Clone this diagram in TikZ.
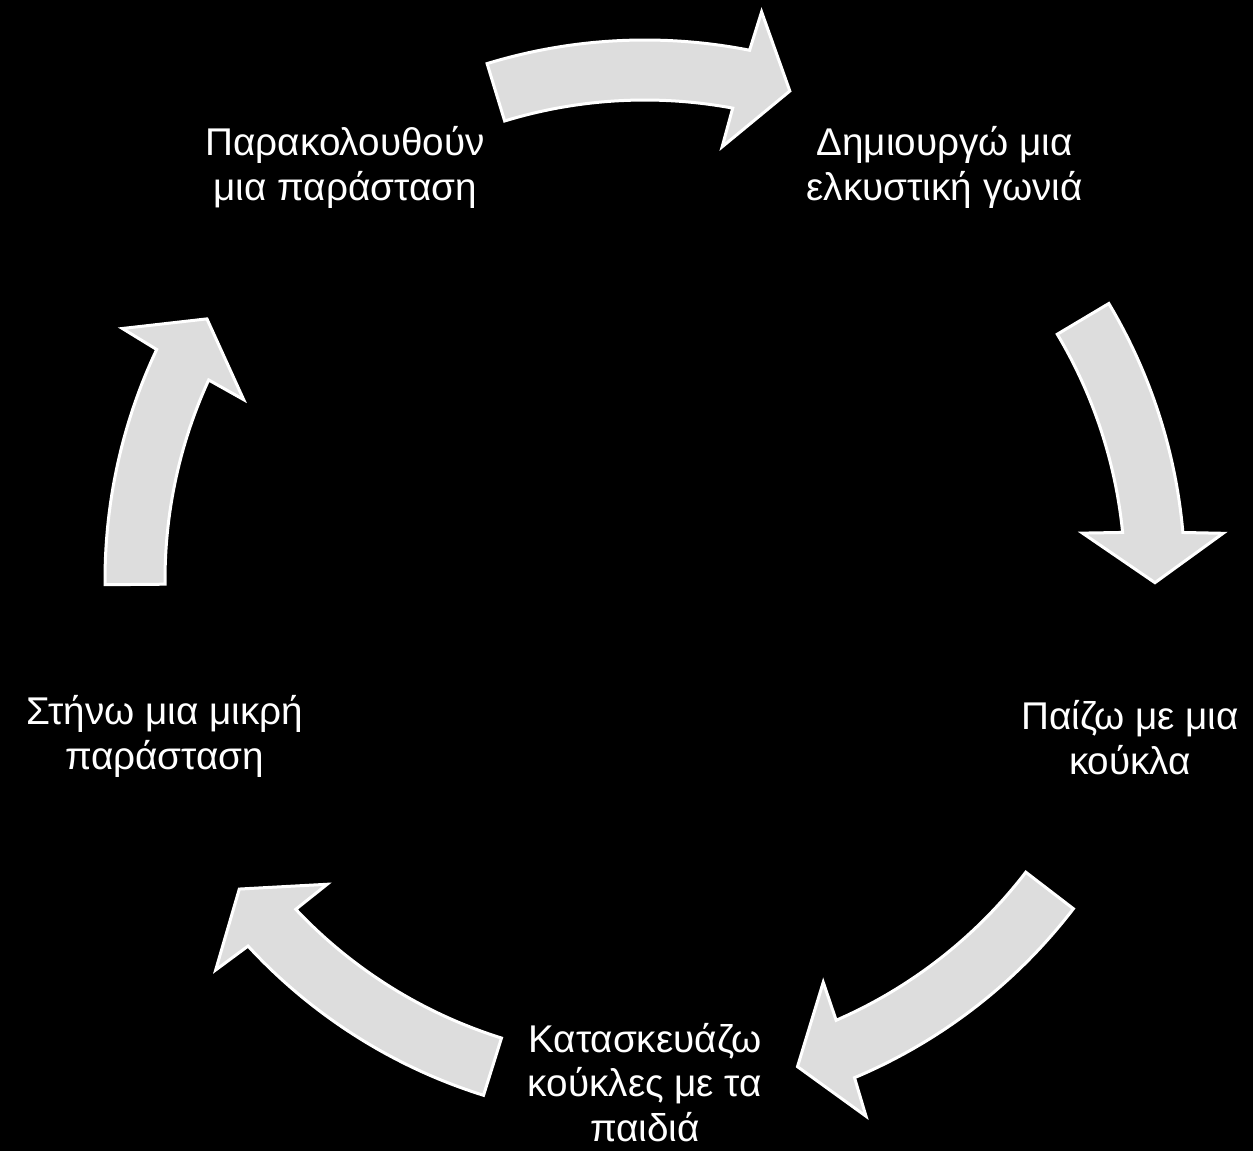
\documentclass[tikz,border=0pt]{standalone}
\usepackage{fontspec}
\setmainfont{Liberation Sans}
\tikzset{
  steptext/.style={text=white, align=center, inner sep=0pt,
    font=\fontsize{22}{25.5}\selectfont},
  arrowshape/.style={fill={rgb,255:red,221;green,221;blue,221}, draw=white,
    line width=0.06cm}
}
% tail angle, head base angle, tip angle
\newcommand{\cyclearrow}[3]{%
  \filldraw[arrowshape] (#1:10.8) arc[start angle=#1, end angle=#2-0.32, radius=10.8]
    -- (#2-0.75:11.6) -- (#3:10.2) -- (#2+0.75:8.8) -- (#2+0.32:9.6)
    arc[start angle=#2+0.32, end angle=#1, radius=9.6] -- cycle;}

\begin{document}
\begin{tikzpicture}
    \fill[black] (-12.9,-11.42) rectangle (12.16,11.6);
    \useasboundingbox (-12.9,-11.42) rectangle (12.16,11.6);

    \node[steptext] (watch) at (126:10.2) {Παρακολουθούν\\μια παράσταση};
    \node[steptext] (corner) at (54:10.2) {Δημιουργώ μια\\ελκυστική γωνιά};
    \node[steptext] (play) at (-18:10.2) {Παίζω με μια\\κούκλα};
    \node[steptext] (make) at (-90:10.05) {Κατασκευάζω\\κούκλες με τα\\παιδιά};
    \node[steptext] (stage) at (198:10.1) {Στήνω μια μικρή\\παράσταση};

    \cyclearrow{107}{79.15}{73.5}
    \cyclearrow{30.8}{5.37}{-0.3}
    \cyclearrow{-37.5}{-66.85}{-72.6}
    \cyclearrow{-107.4}{-137}{-142.7}
    \cyclearrow{180.5}{155.05}{149.2}
\end{tikzpicture}
\end{document}
